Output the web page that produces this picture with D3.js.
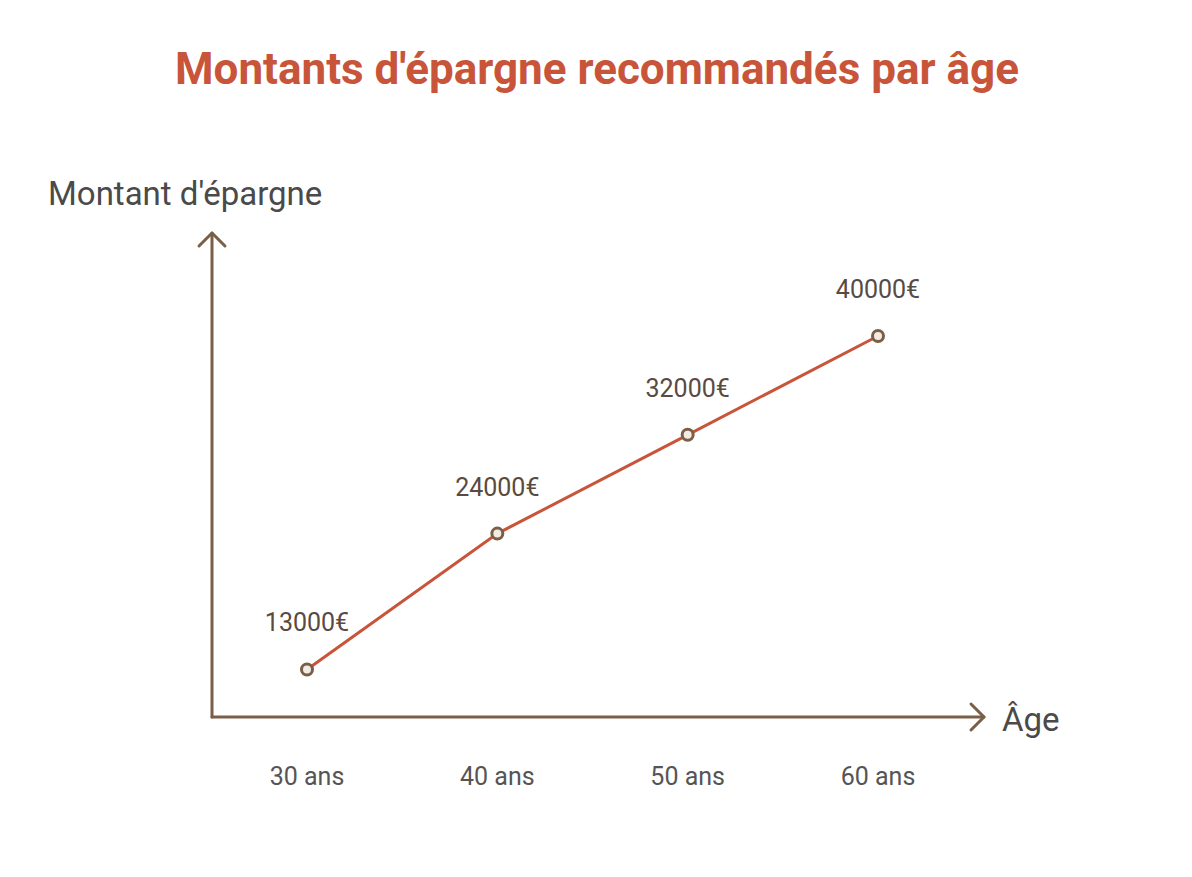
<!DOCTYPE html>
<html><head><meta charset="utf-8">
<script src="https://cdn.jsdelivr.net/npm/d3@7"></script>
<style>body{margin:0;background:#fff}text{font-family:Roboto,sans-serif}</style>
</head><body>
<svg id="chart" width="1192" height="877"></svg>
<script>
var ages = ["30 ans", "40 ans", "50 ans", "60 ans"];
var amounts = [13000, 24000, 32000, 40000];
var valueLabels = ["13000€", "24000€", "32000€", "40000€"];

var svg = d3.select("#chart");
var axisColor = "#7a5f48", lineColor = "#c8553a";

var x = d3.scalePoint().domain(ages).range([307, 878]);
var y = d3.scaleLinear().domain([0, 40000]).range([830, 336]);

svg.append("text").attr("x", 597).attr("y", 84).attr("text-anchor", "middle")
  .attr("font-size", 44).attr("font-weight", 700).attr("fill", lineColor)
  .text("Montants d'épargne recommandés par âge");

// axes with arrowheads
var ax = svg.append("g").attr("stroke", axisColor).attr("stroke-width", 3).attr("fill", "none")
  .attr("stroke-linecap", "round").attr("stroke-linejoin", "round");
ax.append("path").attr("d", "M212,717V233");
ax.append("path").attr("d", "M199,246L212,233L225,246");
ax.append("path").attr("d", "M212,717H984");
ax.append("path").attr("d", "M971,704L984,717L971,730");

svg.append("text").attr("x", 48).attr("y", 205).attr("font-size", 33).attr("fill", "#4a4a4a")
  .text("Montant d'épargne");
svg.append("text").attr("x", 1002).attr("y", 731).attr("font-size", 33).attr("fill", "#4a4a4a")
  .text("Âge");

svg.selectAll(".tick").data(ages).join("text").attr("class", "tick")
  .attr("x", function(d){ return x(d); }).attr("y", 785).attr("text-anchor", "middle")
  .attr("font-size", 25).attr("fill", "#555").text(function(d){ return d; });

var pts = ages.map(function(a, i){ return [x(a), y(amounts[i])]; });
svg.append("path").attr("d", d3.line()(pts)).attr("fill", "none")
  .attr("stroke", lineColor).attr("stroke-width", 3);

svg.selectAll(".pt").data(pts).join("circle").attr("class", "pt")
  .attr("cx", function(d){ return d[0]; }).attr("cy", function(d){ return d[1]; })
  .attr("r", 5.5).attr("fill", "#f3ebe3").attr("stroke", axisColor).attr("stroke-width", 3);

svg.selectAll(".val").data(pts).join("text").attr("class", "val")
  .attr("x", function(d){ return d[0]; }).attr("y", function(d){ return d[1] - 38; })
  .attr("text-anchor", "middle").attr("font-size", 25).attr("fill", "#5a4a40")
  .text(function(d, i){ return valueLabels[i]; });
</script>
</body></html>
